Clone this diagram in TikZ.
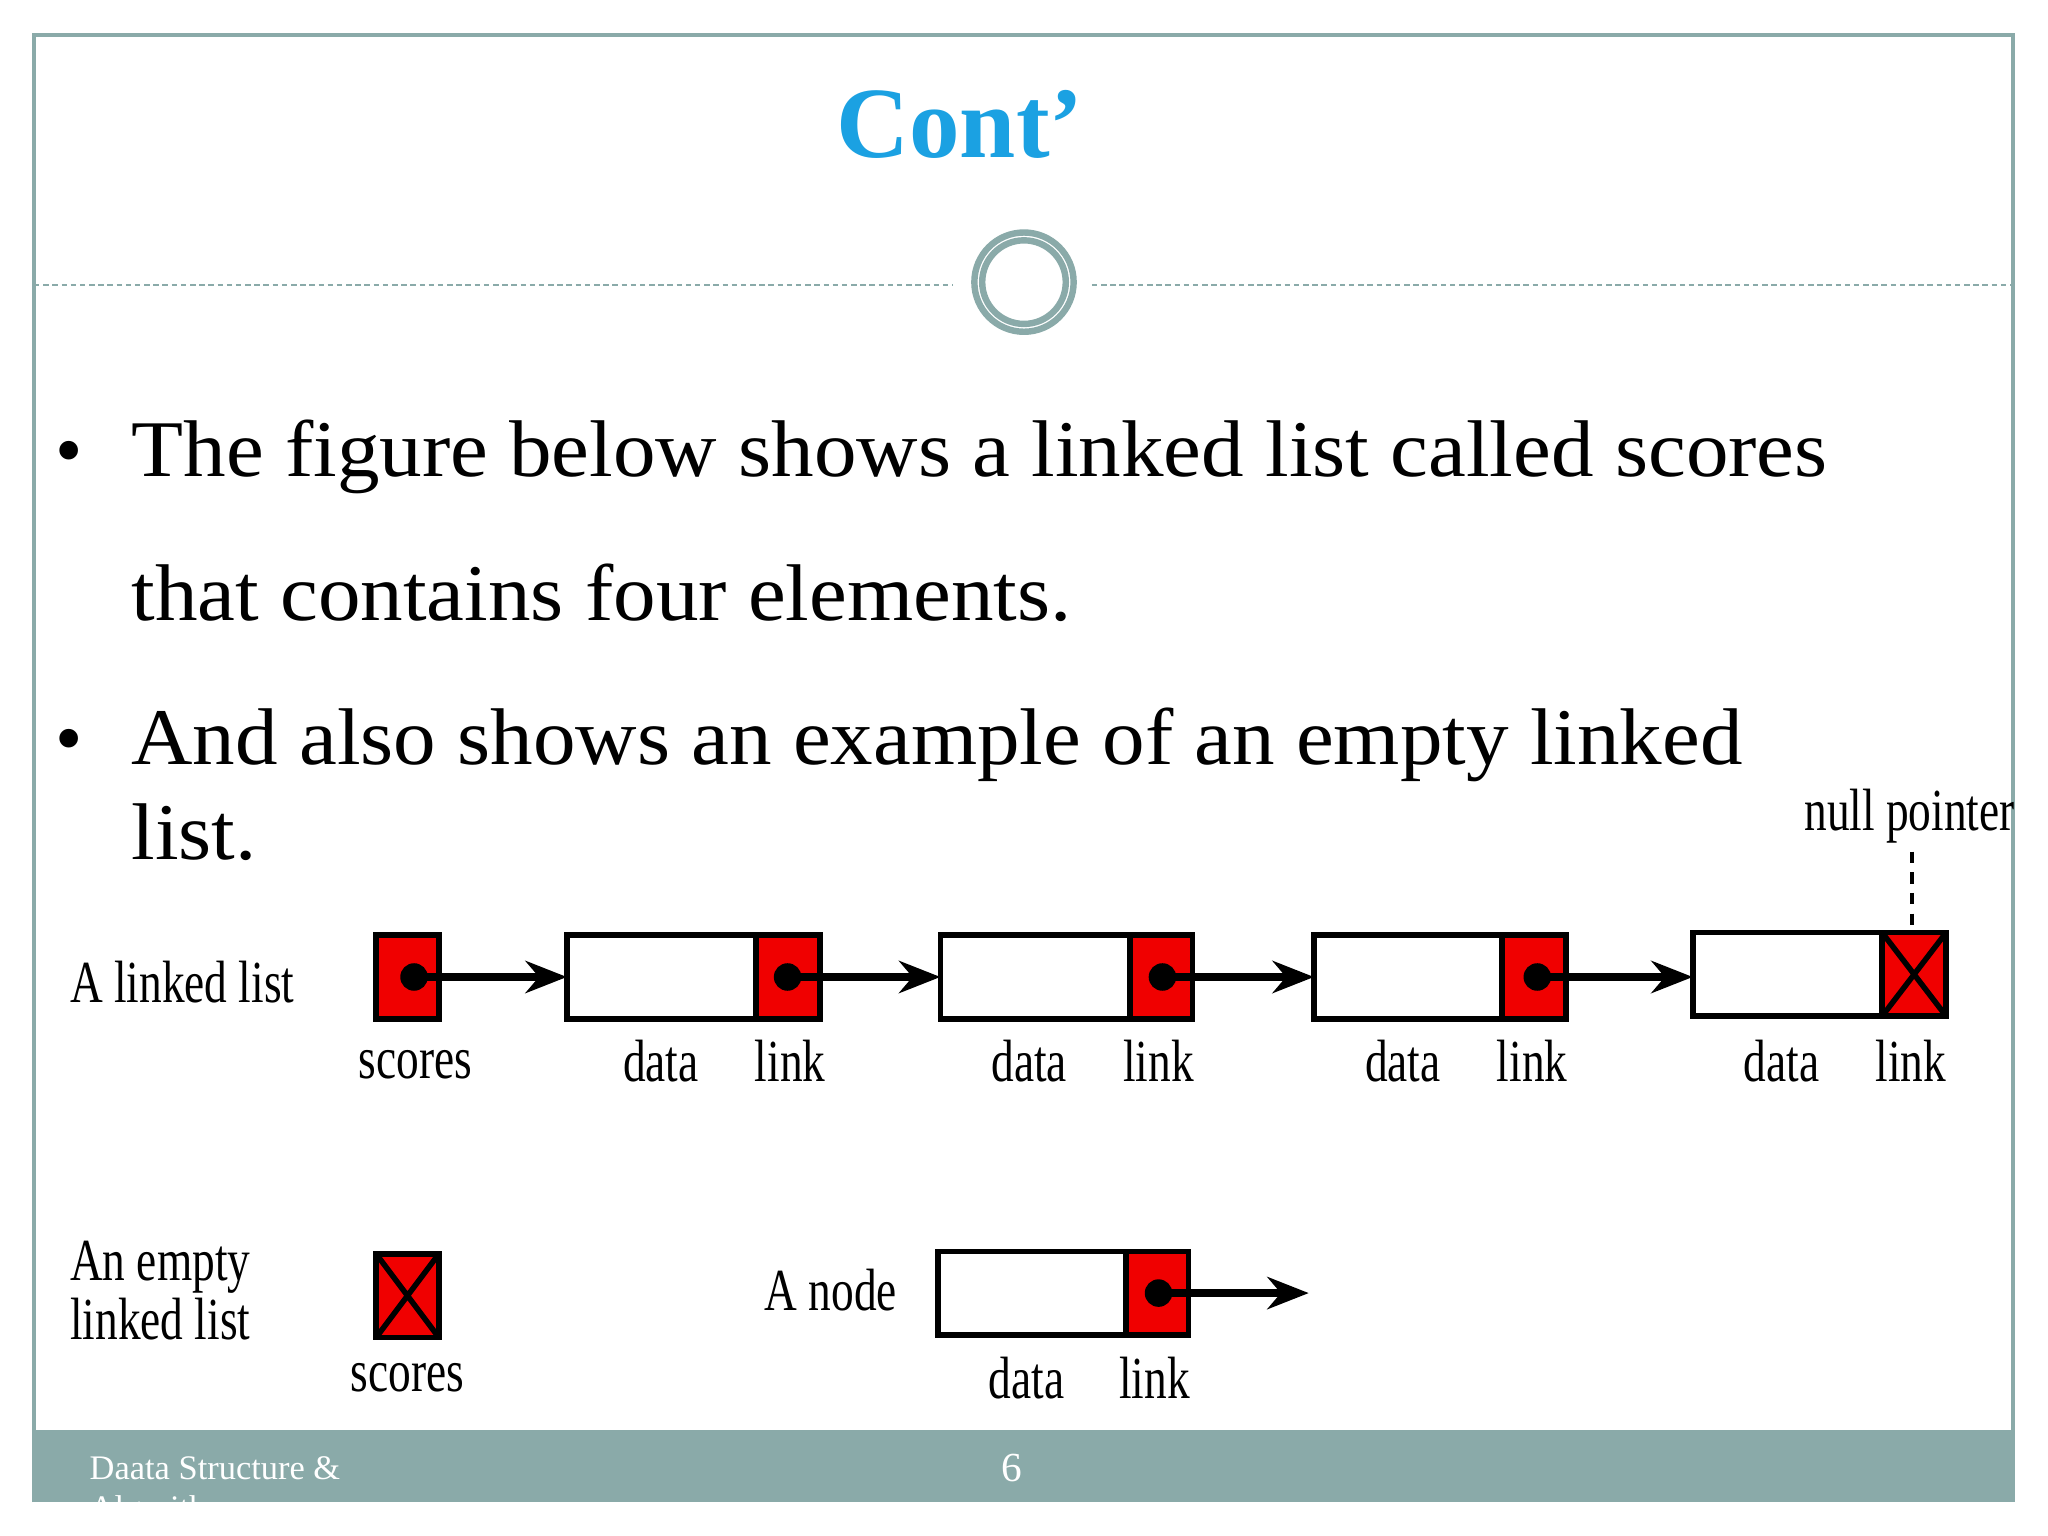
\documentclass[tikz,border=0pt]{standalone}
\usepackage{fontspec}
\setmainfont{Liberation Serif}
\usetikzlibrary{arrows.meta}
\definecolor{frame}{HTML}{8AAAA9}
\definecolor{titlec}{HTML}{1BA1E2}
\definecolor{boxred}{HTML}{F00000}
\newcommand{\lbl}[1]{\scalebox{0.76}[1]{#1}}
\tikzset{
 lab/.style={font=\fontsize{13}{15}\selectfont, inner sep=0},
 datab/.style={draw, line width=1.2pt, fill=white},
 linkb/.style={draw, line width=1.2pt, fill=boxred},
 ptr/.style={line width=1.6pt, -{Stealth[length=9pt,width=7pt]}},
 dotc/.style={fill=black, circle, inner sep=0, minimum size=6pt},
 btxt/.style={anchor=base west, inner sep=0, font=\fontsize{17}{20}\selectfont},
}
\begin{document}
\begin{tikzpicture}[x=0.1mm,y=-0.1mm]
\useasboundingbox (0,0) rectangle (1568,1176);
\fill[white] (0,0) rectangle (1568,1176);
% frame
\draw[frame, line width=0.8pt] (26,1150) -- (26,27) -- (1541,27) -- (1541,1150);
\fill[frame] (26,1095) rectangle (1541,1150);
\draw[frame, line width=0.4pt, dash pattern=on 1.2pt off 0.8pt] (26,218) -- (730,218);
\draw[frame, line width=0.4pt, dash pattern=on 1.2pt off 0.8pt] (836,218) -- (1541,218);
\draw[frame, line width=1.4pt] (784,216) circle (38);
\draw[frame, line width=1.4pt] (784,216) circle (32);
% title
\node[text=titlec, font=\fontsize{22}{26}\bfseries\selectfont] (title) at (735,95) {Cont’};
% bullets
\node[btxt] (b1) at (42,365) {•};
\node[btxt] (t1) at (100,365) {\scalebox{1.09}[1.03]{The figure below shows a linked list called scores}};
\node[btxt] (t2) at (100,475) {\scalebox{1.09}[1.03]{that contains four elements.}};
\node[btxt] (b2) at (42,585) {•};
\node[btxt] (t3) at (100,585) {\scalebox{1.09}[1.03]{And also shows an example of an empty linked}};
\node[btxt] (t4) at (100,658) {\scalebox{1.09}[1.03]{list.}};
% footer
\begin{scope}
\clip (26,1095) rectangle (1541,1150);
\node[anchor=base west, text=white, font=\fontsize{7.5}{9}\selectfont, inner sep=0] (f1) at (68,1133) {Daata Structure \&};
\node[anchor=base west, text=white, font=\fontsize{7.5}{9}\selectfont, inner sep=0] (f2) at (68,1163) {Algorithm};
\end{scope}
\node[text=white, font=\fontsize{9}{11}\selectfont] (pg) at (775,1124) {6};
% linked list
\node[lab, anchor=west] (ll) at (53,752) {\lbl{A linked list}};
\draw[linkb] (288,716) rectangle (336,780);
\draw[datab] (434,716) rectangle (579,780); \draw[linkb] (579,716) rectangle (628,780);
\draw[datab] (720,716) rectangle (865,780); \draw[linkb] (865,716) rectangle (913,780);
\draw[datab] (1006,716) rectangle (1150,780); \draw[linkb] (1150,716) rectangle (1199,780);
\draw[datab] (1296,714) rectangle (1441,778); \draw[linkb] (1441,714) rectangle (1490,778);
\draw[line width=1.2pt] (1441,714) -- (1490,778) (1441,778) -- (1490,714);
\node[dotc] (d0) at (317,748) {};
\node[dotc] (d1) at (603,748) {};
\node[dotc] (d2) at (890,748) {};
\node[dotc] (d3) at (1177,748) {};
\coordinate (n1) at (434,748);
\coordinate (n2) at (720,748);
\coordinate (n3) at (1006,748);
\coordinate (n4) at (1296,748);
\draw[ptr] (d0.center) -- (n1);
\draw[ptr] (d1.center) -- (n2);
\draw[ptr] (d2.center) -- (n3);
\draw[ptr] (d3.center) -- (n4);
\node[lab] (ls) at (318,815) {\lbl{scores}};
\node[lab] (la1) at (506,812) {\lbl{data}}; \node[lab] (lb1) at (605,812) {\lbl{link}};
\node[lab] (la2) at (788,812) {\lbl{data}}; \node[lab] (lb2) at (887,812) {\lbl{link}};
\node[lab] (la3) at (1074,812) {\lbl{data}}; \node[lab] (lb3) at (1173,812) {\lbl{link}};
\node[lab] (la4) at (1364,812) {\lbl{data}}; \node[lab] (lb4) at (1463,812) {\lbl{link}};
\node[lab] (np) at (1462,625) {\lbl{null pointer}};
\coordinate (npt) at (1464,712);
\draw[line width=1pt, dash pattern=on 2.5pt off 2pt] (1464,652) -- (npt);
% empty
\node[lab, anchor=west, align=left] (el) at (53,988) {\lbl{An empty}\\[-2pt]\lbl{linked list}};
\draw[linkb] (288,960) rectangle (336,1024);
\draw[line width=1.2pt] (288,960) -- (336,1024) (288,1024) -- (336,960);
\node[lab] (es) at (312,1055) {\lbl{scores}};
% a node
\node[lab] (an) at (636,988) {\lbl{A node}};
\draw[datab] (718,958) rectangle (862,1022); \draw[linkb] (862,958) rectangle (910,1022);
\node[dotc] (d5) at (887,990) {};
\coordinate (e5) at (1002,990);
\draw[ptr] (d5.center) -- (e5);
\node[lab] (la5) at (786,1055) {\lbl{data}}; \node[lab] (lb5) at (884,1055) {\lbl{link}};
\end{tikzpicture}
\end{document}
